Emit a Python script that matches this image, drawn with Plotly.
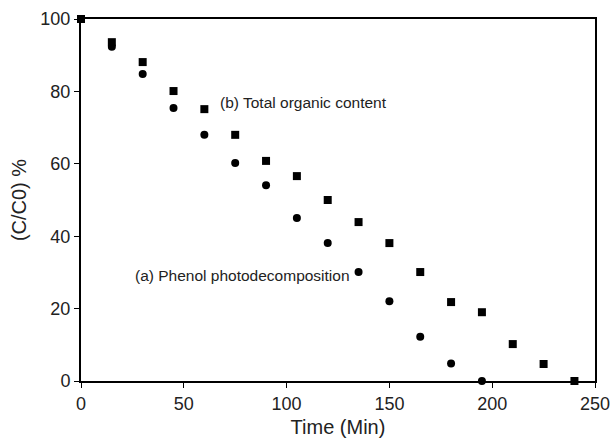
import plotly.graph_objects as go

phenol_time = [0, 15, 30, 45, 60, 75, 90, 105, 120, 135, 150, 165, 180, 195]
phenol_pct = [100, 92.3, 84.8, 75.4, 68, 60.2, 54.1, 45, 38.1, 30.1, 22, 12.2, 4.8, 0]

toc_time = [0, 15, 30, 45, 60, 75, 90, 105, 120, 135, 150, 165, 180, 195, 210, 225, 240]
toc_pct = [100, 93.6, 88.1, 80.1, 75.1, 68, 60.8, 56.6, 50, 43.9, 38.1, 30.1, 21.8, 19, 10.2, 4.7, 0]

x_ticks = [0, 50, 100, 150, 200, 250]
y_ticks = [0, 20, 40, 60, 80, 100]

fig = go.Figure()
fig.add_trace(go.Scatter(x=phenol_time, y=phenol_pct, mode="markers",
                         marker=dict(symbol="circle", size=8, color="black"),
                         showlegend=False, cliponaxis=False))
fig.add_trace(go.Scatter(x=toc_time, y=toc_pct, mode="markers",
                         marker=dict(symbol="square", size=8, color="black"),
                         showlegend=False, cliponaxis=False))

fig.add_annotation(x=66.5, y=76.8, text="(b) Total organic content", showarrow=False,
                   xanchor="left", yanchor="middle", font=dict(size=15.5, color="#222"))
fig.add_annotation(x=25.3, y=29.2, text="(a) Phenol photodecomposition", showarrow=False,
                   xanchor="left", yanchor="middle", font=dict(size=15.5, color="#222"))

axis_common = dict(showgrid=False, zeroline=False, showline=True, linecolor="black",
                   linewidth=2, mirror=True, ticks="outside", ticklen=5, tickwidth=1,
                   tickcolor="black", tickfont=dict(size=18, color="#222"), automargin=False)

fig.update_xaxes(range=[0, 250], tickvals=x_ticks,
                 title=dict(text="Time (Min)", font=dict(size=20, color="#222"), standoff=7),
                 **axis_common)
fig.update_yaxes(range=[0, 100], tickvals=y_ticks,
                 title=dict(text="(C/C0) %", font=dict(size=20, color="#222"), standoff=8),
                 **axis_common)

fig.update_layout(width=612, height=441, margin=dict(l=81, r=17, t=19, b=60),
                  plot_bgcolor="white", paper_bgcolor="white",
                  font=dict(family="Liberation Sans, Arial, sans-serif"))

fig.write_html("out.html")
